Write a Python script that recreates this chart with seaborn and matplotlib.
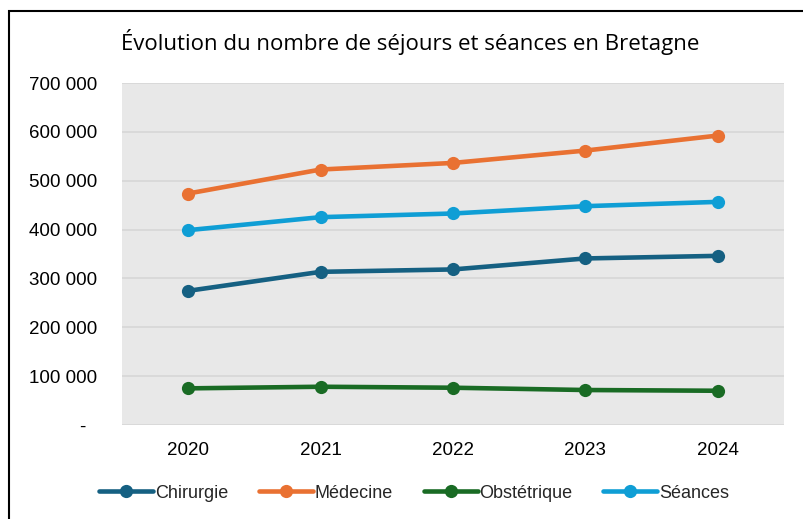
import matplotlib
matplotlib.use("Agg")
import matplotlib.pyplot as plt
from matplotlib import font_manager
from matplotlib.lines import Line2D
from matplotlib.patches import Rectangle
import seaborn as sns
import pandas as pd

years = ["2020", "2021", "2022", "2023", "2024"]
chirurgie = [274600, 313500, 318400, 340900, 346200]
medecine = [473800, 522900, 536400, 561700, 592400]
obstetrique = [75000, 78300, 76300, 71600, 70100]
seances = [398800, 425400, 432900, 447900, 456700]
series_names = ["Chirurgie", "Médecine", "Obstétrique", "Séances"]
colors = ["#156082", "#E97132", "#196B24", "#0F9ED5"]
title = "Évolution du nombre de séjours et séances en Bretagne"
yticks = [0, 100000, 200000, 300000, 400000, 500000, 600000, 700000]

rows = []
for name, vals in zip(series_names, [chirurgie, medecine, obstetrique, seances]):
    for i, (yr, v) in enumerate(zip(years, vals)):
        rows.append({"Année": i, "Valeur": v, "Série": name})
df = pd.DataFrame(rows)

sns.set_theme(style="white")
avail = {f.name for f in font_manager.fontManager.ttflist}
narrow = "Liberation Sans Narrow" if "Liberation Sans Narrow" in avail else "Liberation Sans"
plt.rcParams["font.family"] = ["Liberation Sans", "DejaVu Sans"]

fig = plt.figure(figsize=(8.04, 5.19), dpi=100)
ax = fig.add_axes([122 / 804, 1 - 425 / 519, 662 / 804, 342 / 519])
ax.set_facecolor("#E8E8E8")

palette = dict(zip(series_names, colors))
sns.lineplot(data=df, x="Année", y="Valeur", hue="Série", palette=palette,
             marker="o", markersize=9.5, markeredgewidth=0, linewidth=3.3,
             ax=ax, legend=False, zorder=3)

ax.set_xlim(-0.5, 4.5)
ax.set_ylim(0, 700000)
ax.set_xticks(range(len(years)))
ax.set_xticklabels(years)
ax.set_yticks(yticks)
ax.set_yticklabels([("-  " if v == 0 else f"{v:,}".replace(",", " ")) for v in yticks])
ax.grid(axis="y", color="#D6D6D6", linewidth=1.2, zorder=0)
ax.grid(axis="x", visible=False)
ax.set_axisbelow(True)
for s in ax.spines.values():
    s.set_visible(False)
ax.tick_params(axis="y", length=0, pad=18, labelsize=13.5, labelcolor="#000000")
ax.tick_params(axis="x", length=0, pad=12, labelsize=13.5, labelcolor="#000000")
ax.set_xlabel("")
ax.set_ylabel("")

fig.text(410 / 804, 1 - 42 / 519, title, ha="center", va="center",
         fontsize=16, family=["Open Sans", "DejaVu Sans"], color="#000000")

handles = [Line2D([0], [0], color=c, linewidth=3.3, marker="o", markersize=9.5,
                  markeredgewidth=0) for c in colors]
fig.legend(handles, series_names, loc="center", bbox_to_anchor=(414 / 804, 1 - 493 / 519),
           ncol=4, frameon=False, handlelength=3.0, handletextpad=0.1,
           columnspacing=1.7, prop={"family": [narrow, "DejaVu Sans"], "size": 13})

fig.add_artist(Rectangle((8.5 / 804, -0.5), 1.5, 1.5 - 10.5 / 519, transform=fig.transFigure,
                         fill=False, edgecolor="#000000", linewidth=1.5))

fig.savefig("out.png", dpi=100)
